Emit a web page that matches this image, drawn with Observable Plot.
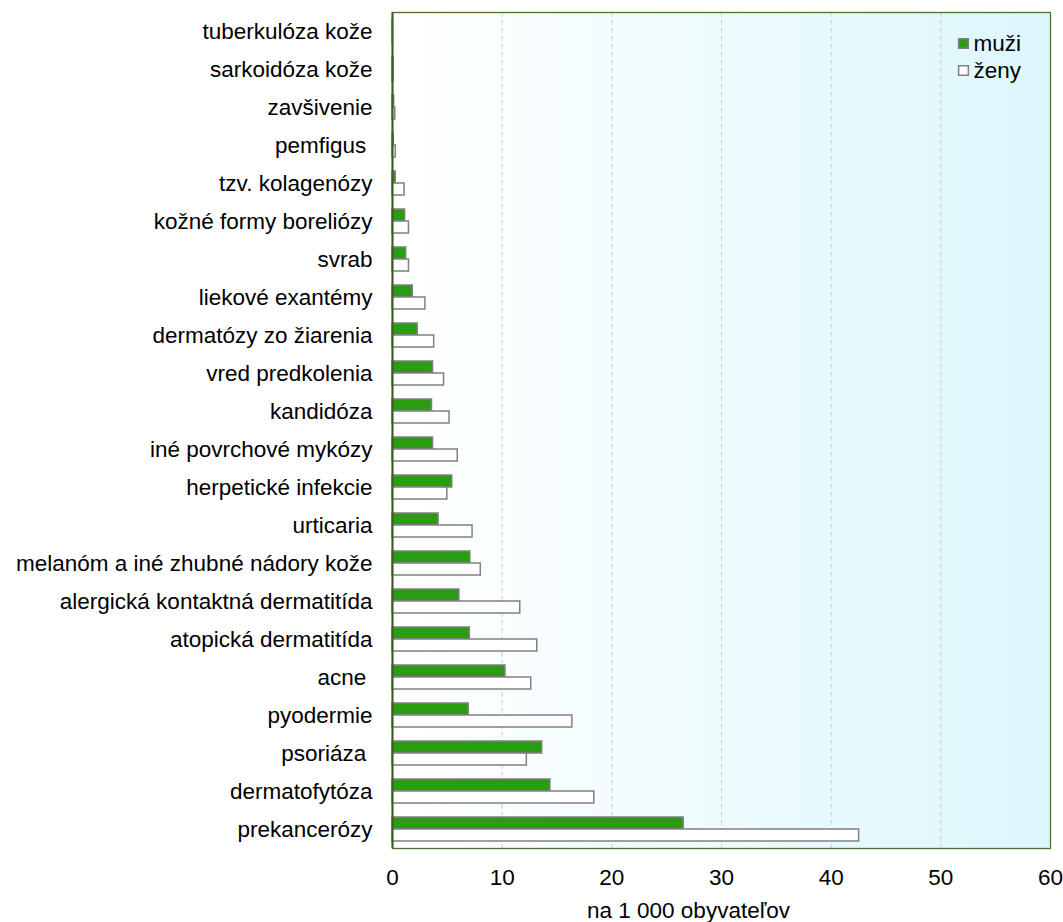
<!DOCTYPE html>
<html>
<head>
<meta charset="utf-8">
<script src="https://cdn.jsdelivr.net/npm/d3@7"></script>
<script src="https://cdn.jsdelivr.net/npm/@observablehq/plot@0.6"></script>
<style>
  body { margin: 0; background: #fff; }
  svg { font-family: "Liberation Sans", Arial, sans-serif; }
</style>
</head>
<body>
<div id="chart"></div>
<script>
const categories = [
  "tuberkulóza kože", "sarkoidóza kože", "zavšivenie", "pemfigus\u00a0",
  "tzv. kolagenózy", "kožné formy boreliózy", "svrab", "liekové exantémy",
  "dermatózy zo žiarenia", "vred predkolenia", "kandidóza", "iné povrchové mykózy",
  "herpetické infekcie", "urticaria", "melanóm a iné zhubné nádory kože",
  "alergická kontaktná dermatitída", "atopická dermatitída", "acne\u00a0",
  "pyodermie", "psoriáza\u00a0", "dermatofytóza", "prekancerózy"
];
const muzi = [0.03, 0.1, 0.15, 0.12, 0.3, 1.15, 1.25, 1.85, 2.3, 3.7, 3.6, 3.7,
  5.45, 4.2, 7.1, 6.1, 7.05, 10.3, 6.95, 13.65, 14.4, 26.55];
const zeny = [0.03, 0.1, 0.25, 0.3, 1.1, 1.5, 1.5, 3.0, 3.8, 4.7, 5.2, 5.95,
  5.0, 7.3, 8.05, 11.65, 13.2, 12.65, 16.4, 12.25, 18.4, 42.55];
const xTicks = [0, 10, 20, 30, 40, 50, 60];
const seriesNames = ["muži", "ženy"];
const xLabel = "na 1 000 obyvateľov";

const rowsM = categories.map((c, i) => ({cat: c, value: muzi[i]}));
const rowsZ = categories.map((c, i) => ({cat: c, value: zeny[i]}));

const green = "#2a9c12";
const barStroke = "#808080";
const fs = 22.5;

const chart = Plot.plot({
  width: 1063,
  height: 922,
  marginLeft: 392,
  marginRight: 13,
  marginTop: 12,
  marginBottom: 74,
  style: {fontSize: fs + "px", fontFamily: "'Liberation Sans', Arial, sans-serif", color: "#000"},
  x: {domain: [0, 60], ticks: xTicks, label: null},
  y: {domain: categories, paddingInner: 0.37, paddingOuter: 0.185, label: null},
  marks: [
    Plot.frame({fill: "url(#bgGrad)", stroke: "none"}),
    Plot.gridX(xTicks.filter(t => t > 0 && t < 60), {stroke: "#c8d0d0", strokeOpacity: 1, strokeDasharray: "5,3", strokeWidth: 1}),
    Plot.barX(rowsM, {y: "cat", x: "value", fill: green, stroke: barStroke, strokeWidth: 1.5, insetBottom: 12}),
    Plot.barX(rowsZ, {y: "cat", x: "value", fill: "#ffffff", stroke: barStroke, strokeWidth: 1.5, insetTop: 12}),
    Plot.frame({stroke: "#4e7030", strokeWidth: 1.3}),
    Plot.ruleX([0], {stroke: "#3d5e22", strokeWidth: 2}),
    Plot.axisY({tickSize: 0, tickPadding: 20, fontSize: fs, fill: "#000"}),
    Plot.axisX({ticks: xTicks, tickSize: 0, tickPadding: 21, fontSize: fs, fill: "#000", label: null}),
    Plot.text([xLabel], {frameAnchor: "bottom", lineAnchor: "middle", dx: -33, dy: 62, fontSize: fs, fill: "#000"}),
    Plot.dot([seriesNames[0]], {frameAnchor: "top-right", dx: -87, dy: 31, symbol: "square", r: 5.5, fill: green, stroke: barStroke, strokeWidth: 1.5}),
    Plot.text([seriesNames[0]], {frameAnchor: "top-right", lineAnchor: "middle", dx: -77, dy: 31, textAnchor: "start", fontSize: fs, fill: "#000"}),
    Plot.dot([seriesNames[1]], {frameAnchor: "top-right", dx: -87, dy: 58, symbol: "square", r: 5.5, fill: "#fff", stroke: barStroke, strokeWidth: 1.5}),
    Plot.text([seriesNames[1]], {frameAnchor: "top-right", lineAnchor: "middle", dx: -77, dy: 58, textAnchor: "start", fontSize: fs, fill: "#000"})
  ]
});

const svg = d3.select(chart);
const defs = svg.insert("defs", ":first-child");
const grad = defs.append("linearGradient").attr("id", "bgGrad").attr("x1", "0").attr("x2", "1").attr("y1", "0").attr("y2", "0");
grad.append("stop").attr("offset", "0%").attr("stop-color", "#ffffff");
grad.append("stop").attr("offset", "100%").attr("stop-color", "#dcf7fc");

document.getElementById("chart").appendChild(chart);
</script>
</body>
</html>
